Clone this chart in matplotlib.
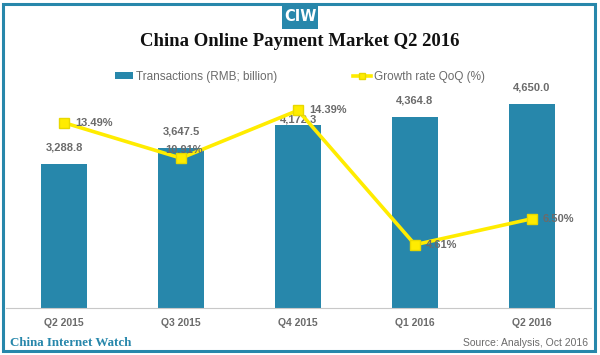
import matplotlib
matplotlib.use("Agg")
import matplotlib.pyplot as plt
from matplotlib.patches import Rectangle, Patch
from matplotlib.lines import Line2D

quarters = ["Q2 2015", "Q3 2015", "Q4 2015", "Q1 2016", "Q2 2016"]
transactions = [3288.8, 3647.5, 4172.3, 4364.8, 4650.0]
growth = [13.49, 10.91, 14.39, 4.61, 6.50]

TEAL = "#2787ab"
YELLOW = "#ffec00"
GREY = "#6b6b6b"

# label offsets in points (some labels are nudged like in the original)
bar_label_dy = [8, 8, 0, 8, 8]
line_label_off = [(8, 0), (-11, 6), (8, 0), (8, 0), (8, 0)]

fig = plt.figure(figsize=(6, 3.55), dpi=100)
W, H = 600, 355

ax = fig.add_axes([5.5 / W, (H - 308) / H, 585 / W, 218 / H])
ax2 = ax.twinx()

x = range(len(quarters))
bars = ax.bar(x, transactions, width=0.4, color=TEAL, zorder=2)
ax.set_xlim(-0.5, len(quarters) - 0.5)
ax.set_ylim(0, 4969)
ax2.set_ylim(0, 15.87)

for xi, val, dy in zip(x, transactions, bar_label_dy):
    ax.annotate(f"{val:,.1f}", (xi, val), xytext=(0, dy), textcoords="offset points",
                ha="center", va="bottom", fontsize=8, color=GREY, fontweight="bold",
                family="Liberation Sans")

ax2.plot(x, growth, color=YELLOW, linewidth=2.6, marker="s", markersize=7,
         markerfacecolor=YELLOW, markeredgecolor="#e8d800", zorder=3)
for xi, val, (dx, dy) in zip(x, growth, line_label_off):
    ax2.annotate(f"{val:.2f}%", (xi, val), xytext=(dx, dy), textcoords="offset points",
                 ha="left", va="center", fontsize=8, color=GREY, fontweight="bold",
                 family="Liberation Sans")

for a in (ax, ax2):
    for side in ("top", "left", "right"):
        a.spines[side].set_visible(False)
    a.set_yticks([])
ax2.spines["bottom"].set_visible(False)
ax.spines["bottom"].set_color("#c8c8c8")
ax.set_xticks(list(x))
ax.set_xticklabels(quarters, fontsize=7.5, color=GREY, fontweight="bold",
                   family="Liberation Sans")
ax.tick_params(axis="x", length=0, pad=7.5)

# title and logo
fig.text(0.5, 1 - 42 / H, "China Online Payment Market Q2 2016", ha="center", va="center",
         fontsize=13.5, fontweight="bold", family="Liberation Serif", color="#111111")
fig.patches.append(Rectangle((282 / W, 1 - 29 / H), 36 / W, 25 / H, transform=fig.transFigure,
                             facecolor=TEAL, edgecolor="none"))
fig.text(300 / W, 1 - 16.5 / H, "CIW", ha="center", va="center", fontsize=10.5,
         fontweight="bold", color="white", family="Liberation Sans Narrow")

# legend
handles = [Patch(facecolor=TEAL, edgecolor="none"),
           Line2D([], [], color=YELLOW, linewidth=2.6, marker="s", markersize=5,
                  markerfacecolor=YELLOW, markeredgecolor="#e8d800")]
fig.legend(handles, ["Transactions (RMB; billion)", "Growth rate QoQ (%)"],
           loc="center", bbox_to_anchor=(0.5, 1 - 77 / H), ncol=2, frameon=False,
           labelcolor=GREY, handlelength=1.5, handleheight=0.5,
           handletextpad=0.2, columnspacing=6.5, prop={"family": "Liberation Sans", "size": 8.5})

# footer
fig.text(10 / W, 1 - 343 / H, "China Internet Watch", ha="left", va="center", fontsize=9.4,
         fontweight="bold", family="Liberation Serif", color=TEAL)
fig.text(588 / W, 1 - 343 / H, "Source: Analysis, Oct 2016", ha="right", va="center",
         fontsize=7.5, family="Liberation Sans", color=GREY)

# outer frame
fig.patches.append(Rectangle((3 / W, 4 / H), 592 / W, 347 / H, transform=fig.transFigure,
                             facecolor="none", edgecolor=TEAL, linewidth=2.2))

fig.savefig("out.png", dpi=100)
